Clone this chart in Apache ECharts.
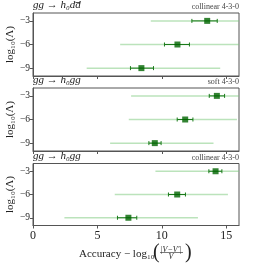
<!DOCTYPE html>
<html><head><meta charset="utf-8">
<script src="https://cdn.jsdelivr.net/npm/echarts@6/dist/echarts.min.js"></script>
<style>html,body{margin:0;padding:0;background:#fff}#c{width:266px;height:266px}</style>
</head><body><div id="c"></div>
<script>
const yLevels = [-3, -6, -9];
const xTicks = [0, 5, 10, 15];
const panelTitles = ['gg → h₀dd', 'gg → h₀gg', 'gg → h₀gg'];
const panelTags = ['collinear 4-3-0', 'soft 4-3-0', 'collinear 4-3-0'];

const p1Center = [13.53, 11.22, 8.42];
const p1ErrLow = [12.34, 10.21, 7.57];
const p1ErrHigh = [14.31, 12.15, 9.36];
const p1RangeLow = [9.15, 6.77, 4.17];
const p1RangeHigh = [16, 16, 14.54];

const p2Center = [14.28, 11.82, 9.46];
const p2ErrLow = [13.69, 11.20, 9.00];
const p2ErrHigh = [14.88, 12.42, 9.95];
const p2RangeLow = [7.62, 7.44, 5.99];
const p2RangeHigh = [16, 15.84, 14.02];

const p3Center = [14.18, 11.20, 7.41];
const p3ErrLow = [13.66, 10.52, 6.56];
const p3ErrHigh = [14.67, 11.84, 8.06];
const p3RangeLow = [9.51, 6.35, 2.44];
const p3RangeHigh = [16, 15.14, 12.81];

const panels = [
  {c: p1Center, el: p1ErrLow, eh: p1ErrHigh, rl: p1RangeLow, rh: p1RangeHigh},
  {c: p2Center, el: p2ErrLow, eh: p2ErrHigh, rl: p2RangeLow, rh: p2RangeHigh},
  {c: p3Center, el: p3ErrLow, eh: p3ErrHigh, rl: p3RangeLow, rh: p3RangeHigh}
];

const FONT = 'Liberation Serif';
const tops = [13, 88, 163.5];
const heights = [63, 63, 62];
const chart = echarts.init(document.getElementById('c'), null, {renderer: 'canvas'});

const grids = [], xAxes = [], yAxes = [], series = [], graphics = [];
panels.forEach((p, i) => {
  grids.push({left: 33, right: 27, top: tops[i], height: heights[i], show: true,
    containLabel: false, outerBoundsMode: 'none',
    borderColor: '#555', borderWidth: 1, backgroundColor: 'transparent'});
  xAxes.push({gridIndex: i, type: 'value', min: 0, max: 16,
    axisLine: {show: true, lineStyle: {color: '#555'}},
    axisTick: {show: true, length: 3, lineStyle: {color: '#555'}, customValues: xTicks},
    splitLine: {show: false},
    axisLabel: {show: i === 2, color: '#222', fontFamily: FONT, fontSize: 12, margin: 4, customValues: xTicks}});
  yAxes.push({gridIndex: i, type: 'value', min: -10, max: -2,
    axisLine: {show: true, lineStyle: {color: '#555'}},
    axisTick: {show: true, length: 3, lineStyle: {color: '#555'}, customValues: yLevels},
    splitLine: {show: false},
    axisLabel: {show: true, color: '#222', fontFamily: FONT, fontSize: 9.5, margin: 3,
      customValues: yLevels, formatter: v => '−' + Math.abs(v)},
    name: 'log₁₀(Λ)', nameLocation: 'middle', nameRotate: 90, nameGap: 17, nameMoveOverlap: false,
    nameTextStyle: {fontFamily: FONT, fontSize: 11, color: '#222'}});
  const rangeData = yLevels.map((y, k) => [p.rl[k], p.rh[k], y]);
  const errData = yLevels.map((y, k) => [p.el[k], p.eh[k], y]);
  series.push({type: 'custom', xAxisIndex: i, yAxisIndex: i, clip: true, z: 1,
    data: rangeData,
    renderItem: (params, api) => {
      const a = api.coord([api.value(0), api.value(2)]);
      const b = api.coord([api.value(1), api.value(2)]);
      return {type: 'line', shape: {x1: a[0], y1: a[1], x2: b[0], y2: b[1]},
        style: {stroke: 'rgba(120,200,120,0.5)', lineWidth: 1.5}};
    }});
  series.push({type: 'custom', xAxisIndex: i, yAxisIndex: i, clip: true, z: 2,
    data: errData,
    renderItem: (params, api) => {
      const a = api.coord([api.value(0), api.value(2)]);
      const b = api.coord([api.value(1), api.value(2)]);
      const st = {stroke: '#1a7a1a', lineWidth: 1};
      return {type: 'group', children: [
        {type: 'line', shape: {x1: a[0], y1: a[1], x2: b[0], y2: b[1]}, style: st},
        {type: 'line', shape: {x1: a[0], y1: a[1]-2, x2: a[0], y2: a[1]+2}, style: st},
        {type: 'line', shape: {x1: b[0], y1: b[1]-2, x2: b[0], y2: b[1]+2}, style: st}
      ]};
    }});
  series.push({type: 'scatter', xAxisIndex: i, yAxisIndex: i, z: 3,
    symbol: 'rect', symbolSize: 6, itemStyle: {color: '#006400'},
    data: yLevels.map((y, k) => [p.c[k], y])});
  graphics.push({type: 'text', x: 33, y: tops[i] - 2,
    style: {text: panelTitles[i], fontFamily: FONT, fontStyle: 'italic', fontSize: 11, fill: '#222',
      textVerticalAlign: 'bottom', verticalAlign: 'bottom'}});
  graphics.push({type: 'text', x: 239, y: tops[i] - 2,
    style: {text: panelTags[i], fontFamily: FONT, fontSize: 8, fill: '#444',
      align: 'right', textAlign: 'right', verticalAlign: 'bottom', textVerticalAlign: 'bottom'}});
});
// bar over the last d in the first title
graphics.push({type: 'line', shape: {x1: 75.5, y1: 2.5, x2: 80, y2: 2.5}, style: {stroke: '#222', lineWidth: 0.8}});

const xn = {fontFamily: FONT, fill: '#222'};
graphics.push({type: 'group', x: 79, y: 254, children: [
  {type: 'text', x: 0, y: 0, style: Object.assign({text: 'Accuracy − log₁₀', fontSize: 11, verticalAlign: 'middle', textVerticalAlign: 'middle'}, xn)},
  {type: 'text', x: 74, y: -1, style: Object.assign({text: '(', fontSize: 20, verticalAlign: 'middle', textVerticalAlign: 'middle'}, xn)},
  {type: 'text', x: 92, y: -4.5, style: Object.assign({text: '|V−V′|', fontStyle: 'italic', fontSize: 8, align: 'center', textAlign: 'center', verticalAlign: 'middle', textVerticalAlign: 'middle'}, xn)},
  {type: 'line', shape: {x1: 81, y1: -1.5, x2: 104, y2: -1.5}, style: {stroke: '#222', lineWidth: 0.6}},
  {type: 'text', x: 92, y: 3, style: Object.assign({text: 'V', fontStyle: 'italic', fontSize: 8, align: 'center', textAlign: 'center', verticalAlign: 'middle', textVerticalAlign: 'middle'}, xn)},
  {type: 'text', x: 106, y: -1, style: Object.assign({text: ')', fontSize: 20, verticalAlign: 'middle', textVerticalAlign: 'middle'}, xn)}
]});

chart.setOption({animation: false, grid: grids, xAxis: xAxes, yAxis: yAxes, series: series, graphic: graphics});
</script></body></html>
